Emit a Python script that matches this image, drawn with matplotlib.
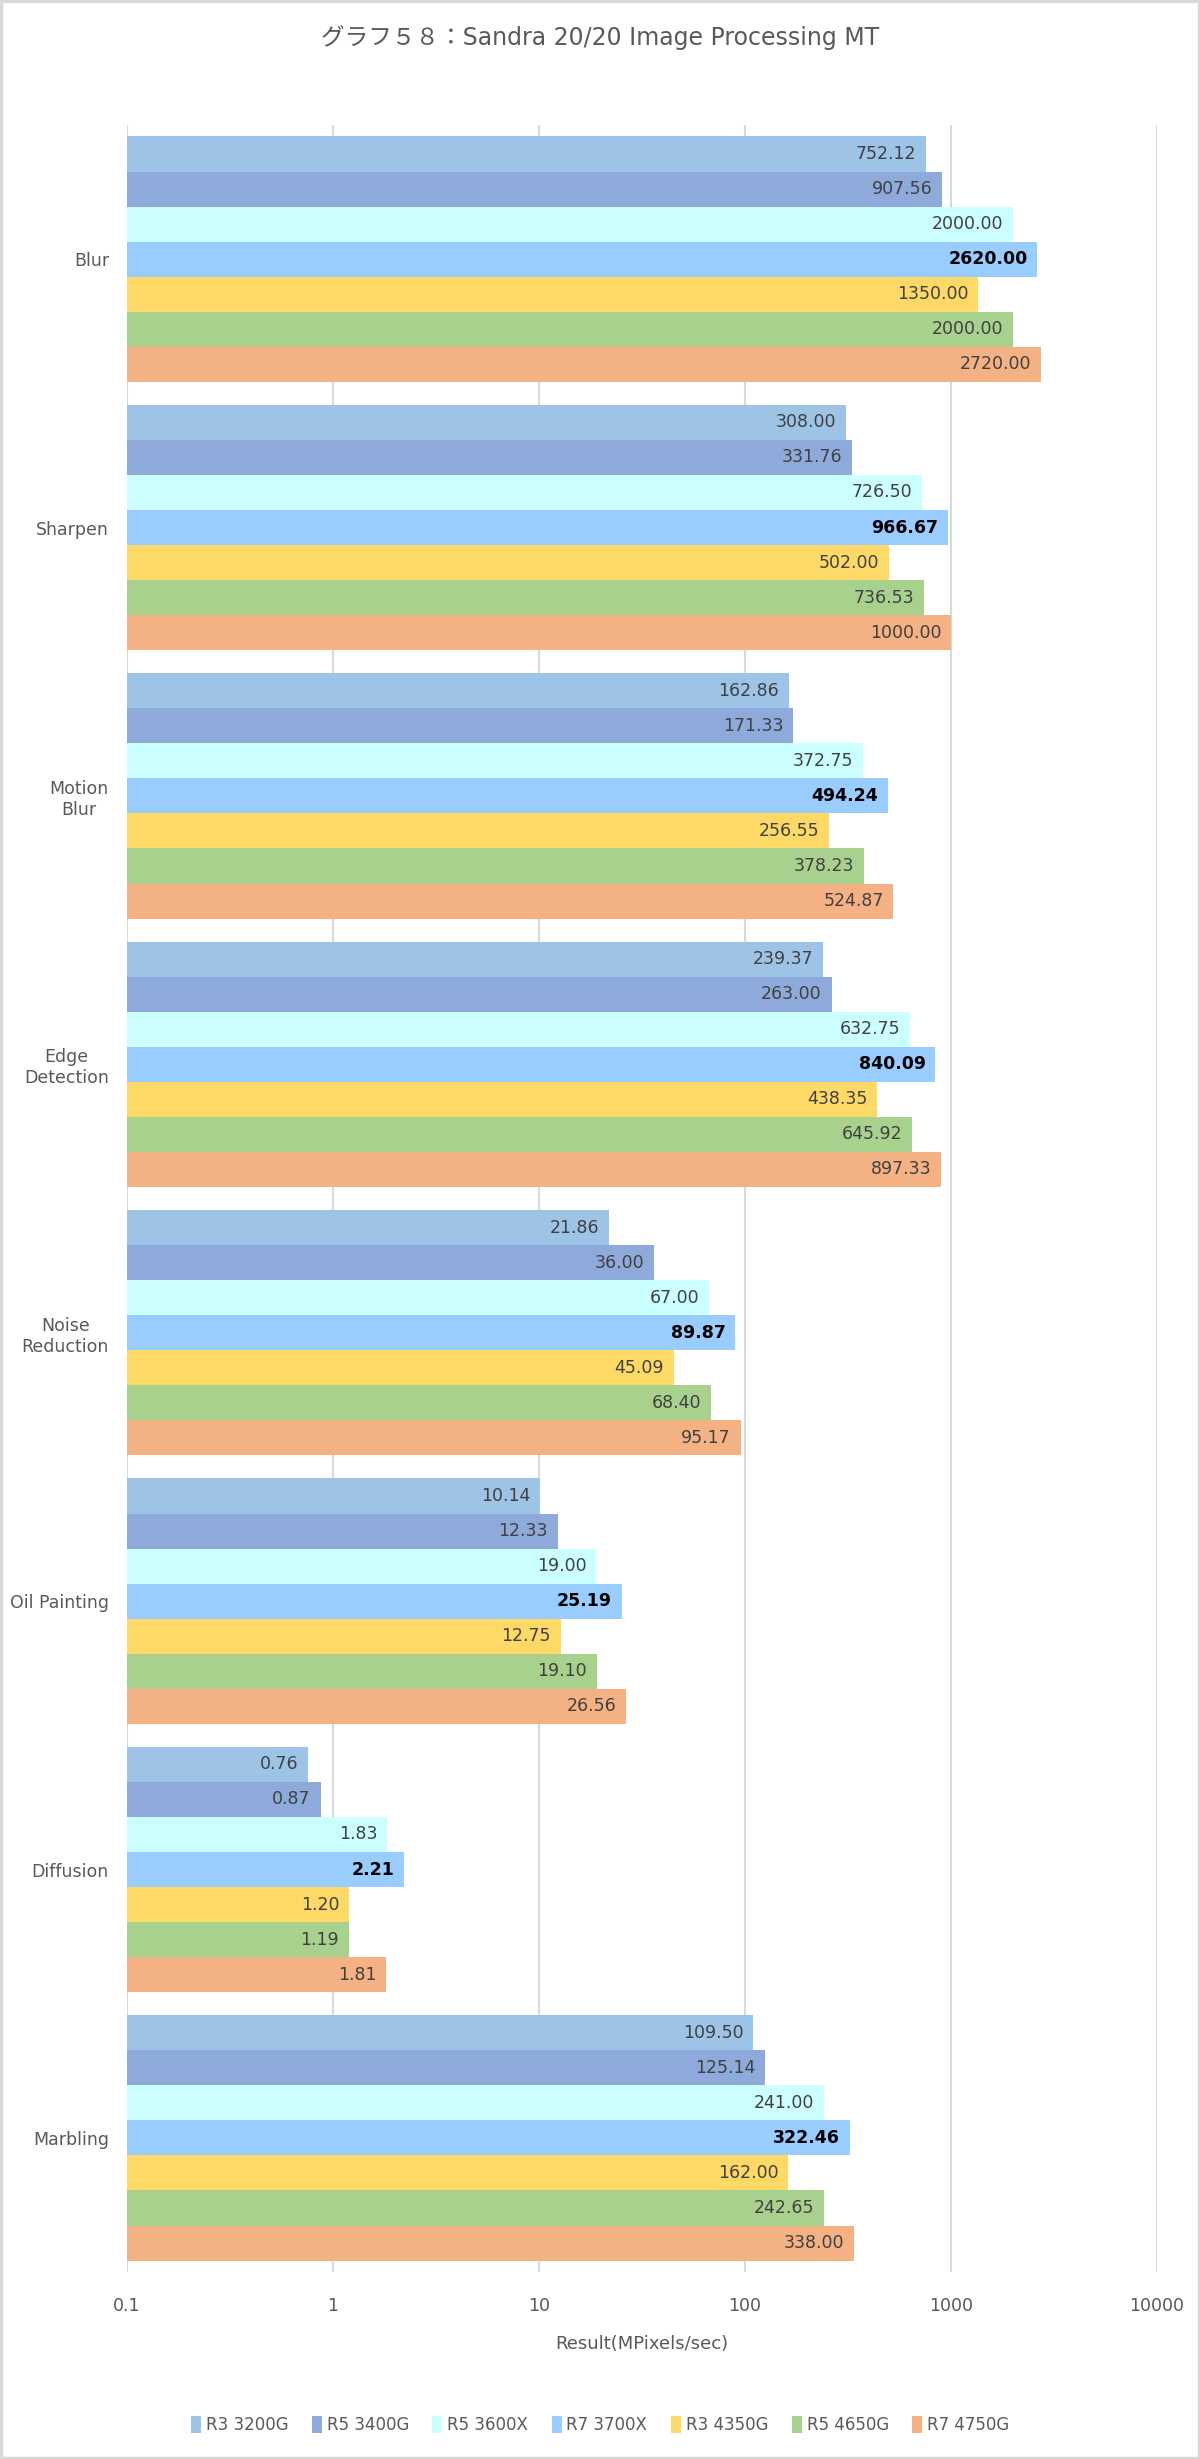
import numpy as np
import matplotlib
matplotlib.use("Agg")
import matplotlib.pyplot as plt
from matplotlib.patches import Rectangle

plt.rcParams['font.family'] = ['DejaVu Sans', 'Noto Sans CJK JP']

# Data
categories = ['Blur', 'Sharpen', 'Motion\nBlur', 'Edge\nDetection', 'Noise\nReduction',
              'Oil Painting', 'Diffusion', 'Marbling']
series = ['R3 3200G', 'R5 3400G', 'R5 3600X', 'R7 3700X', 'R3 4350G', 'R5 4650G', 'R7 4750G']
r3_3200g = [752.12, 308.00, 162.86, 239.37, 21.86, 10.14, 0.76, 109.50]
r5_3400g = [907.56, 331.76, 171.33, 263.00, 36.00, 12.33, 0.87, 125.14]
r5_3600x = [2000.00, 726.50, 372.75, 632.75, 67.00, 19.00, 1.83, 241.00]
r7_3700x = [2620.00, 966.67, 494.24, 840.09, 89.87, 25.19, 2.21, 322.46]
r3_4350g = [1350.00, 502.00, 256.55, 438.35, 45.09, 12.75, 1.20, 162.00]
r5_4650g = [2000.00, 736.53, 378.23, 645.92, 68.40, 19.10, 1.19, 242.65]
r7_4750g = [2720.00, 1000.00, 524.87, 897.33, 95.17, 26.56, 1.81, 338.00]
values = [r3_3200g, r5_3400g, r5_3600x, r7_3700x, r3_4350g, r5_4650g, r7_4750g]
colors = ['#9DC3E6', '#8EAADB', '#CCFFFF', '#99CCFF', '#FFD966', '#A9D18E', '#F4B183']
xticks = [0.1, 1, 10, 100, 1000, 10000]
xticklabels = ['0.1', '1', '10', '100', '1000', '10000']
base = 0.1  # log axis minimum, bars start here

fig = plt.figure(figsize=(12, 24.59), dpi=100)
ax = fig.add_axes([0.1058, 0.0760, 0.8584, 0.8732])

n = len(series)
group = 0.914
bh = group / n
y = np.arange(len(categories))

for i, (name, vals, c) in enumerate(zip(series, values, colors)):
    pos = y - group / 2 + bh * (i + 0.5)
    widths = np.array(vals) - base
    bars = ax.barh(pos, widths, height=bh, left=base, color=c, label=name, zorder=3)
    bold = name == 'R7 3700X'
    for b, v in zip(bars, vals):
        ax.annotate(f'{v:.2f}', xy=(v, b.get_y() + b.get_height() / 2),
                    xytext=(-7, 0), textcoords='offset points', ha='right', va='center',
                    fontsize=12.5, color='#000000' if bold else '#404040',
                    fontweight='bold' if bold else 'normal', zorder=4)

ax.set_xscale('log')
ax.set_xlim(0.1, 10000)
ax.set_ylim(len(categories) - 0.5, -0.5)
ax.set_xticks(xticks)
ax.set_xticklabels(xticklabels)
ax.minorticks_off()
ax.set_yticks(y)
ax.set_yticklabels(categories, multialignment='center')
ax.tick_params(axis='both', length=0, colors='#595959', labelsize=12.5)
ax.tick_params(axis='x', pad=18)
ax.tick_params(axis='y', pad=13)
ax.grid(axis='x', color='#D9D9D9', linewidth=1.5, zorder=0)
for s in ax.spines.values():
    s.set_visible(False)
ax.set_xlabel('Result(MPixels/sec)', fontsize=13, color='#595959', labelpad=14)

fig.text(0.5, 1 - 38 / 2459, 'グラフ５８：Sandra 20/20 Image Processing MT',
         ha='center', va='center', fontsize=17, color='#595959')

ax.legend(loc='center', bbox_to_anchor=(0.5, 1 - 2425 / 2459), bbox_transform=fig.transFigure,
          ncol=n, frameon=False, fontsize=12, labelcolor='#595959',
          handlelength=0.6, handleheight=1.2, handletextpad=0.3, columnspacing=1.4)

fig.add_artist(Rectangle((0.001, 0.0005), 0.998, 0.999, transform=fig.transFigure,
                         fill=False, edgecolor='#D9D9D9', linewidth=2.5))

fig.savefig('out.png', dpi=100, facecolor='white')
